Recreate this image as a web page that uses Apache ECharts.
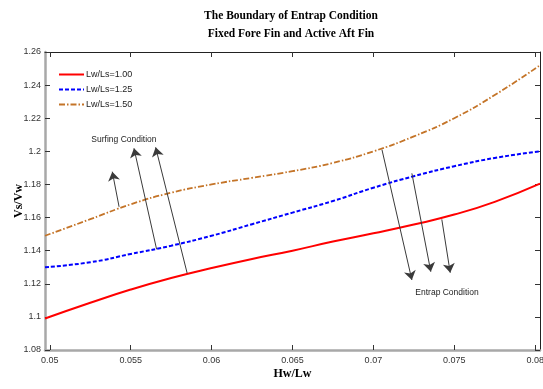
<!DOCTYPE html>
<html>
<head>
<meta charset="utf-8">
<script src="https://cdn.jsdelivr.net/npm/echarts@6/dist/echarts.min.js"></script>
<style>
  html, body { margin: 0; padding: 0; background: #fff; }
  #chart { width: 543px; height: 389px; }
</style>
</head>
<body>
<div id="chart"></div>
<script>
// Wave height ratio Hw/Lw (x) against speed ratio Vs/Vw (y)
const hwLw = [0.0497, 0.0525, 0.055, 0.0575, 0.06, 0.0625, 0.065, 0.0675, 0.07, 0.0725, 0.075, 0.0775, 0.0803];
const ratio100 = [1.099, 1.1085, 1.1165, 1.1235, 1.1295, 1.135, 1.140, 1.1455, 1.1505, 1.1558, 1.1618, 1.1695, 1.1805];
const ratio125 = [1.130, 1.133, 1.138, 1.143, 1.149, 1.156, 1.163, 1.170, 1.178, 1.185, 1.191, 1.196, 1.200];
const ratio150 = [1.149, 1.159, 1.168, 1.175, 1.180, 1.184, 1.188, 1.193, 1.200, 1.209, 1.220, 1.234, 1.252];
const seriesNames = ['Lw/Ls=1.00', 'Lw/Ls=1.25', 'Lw/Ls=1.50'];

const xTicks = [0.05, 0.055, 0.06, 0.065, 0.07, 0.075, 0.08];
const yTicks = [1.08, 1.1, 1.12, 1.14, 1.16, 1.18, 1.2, 1.22, 1.24, 1.26];

// Arrows: [fromX, fromY, toX, toY]
const surfingArrows = [
  [0.05428, 1.1665, 0.05386, 1.1877],
  [0.0566, 1.1408, 0.0552, 1.2018],
  [0.05849, 1.1263, 0.05654, 1.2024]
];
const entrapArrows = [
  [0.07053, 1.2010, 0.07238, 1.1223],
  [0.07238, 1.1867, 0.07355, 1.1273],
  [0.07423, 1.1589, 0.07475, 1.1267]
];
const noteLabels = [
  { text: 'Surfing Condition', x: 0.05458, y: 1.2068 },
  { text: 'Entrap Condition', x: 0.07455, y: 1.1144 }
];

const narrow = "'Liberation Sans Narrow', 'Liberation Sans', sans-serif";
const serif = "'Liberation Serif', 'Times New Roman', serif";
const fmt = v => String(+(+v).toFixed(4));

const arrowLines = surfingArrows.concat(entrapArrows).map(a => [
  { coord: [a[0], a[1]], symbol: 'none' },
  { coord: [a[2], a[3]], symbol: 'arrow', symbolSize: 9 }
]);

const chart = echarts.init(document.getElementById('chart'), null, { renderer: 'canvas' });
chart.setOption({
  animation: false,
  backgroundColor: '#ffffff',
  title: {
    text: 'The Boundary of Entrap Condition\nFixed Fore Fin and Active Aft Fin',
    left: 286,
    textAlign: 'center',
    top: 2,
    textStyle: { fontFamily: serif, fontWeight: 'bold', fontSize: 11.5, lineHeight: 18, color: '#000' }
  },
  legend: {
    orient: 'vertical',
    left: 58,
    top: 70,
    padding: 0,
    itemWidth: 25,
    itemHeight: 8,
    itemGap: 6,
    itemStyle: { color: 'transparent', borderColor: 'transparent', borderWidth: 0, opacity: 0 },
    textStyle: { fontFamily: narrow, fontSize: 9, color: '#222', padding: [0, 0, 0, -3] },
    data: seriesNames
  },
  grid: { left: 45, right: 3, top: 52, bottom: 39, containLabel: false, outerBoundsMode: 'none' },
  xAxis: [
    {
      type: 'value', min: 0.0497, max: 0.0803, position: 'bottom',
      name: 'Hw/Lw', nameLocation: 'middle', nameGap: 18, nameMoveOverlap: false,
      nameTextStyle: { fontFamily: serif, fontWeight: 'bold', fontSize: 12, color: '#000' },
      axisLine: { show: true, onZero: false, lineStyle: { color: '#a8a8a8', width: 2.5 } },
      axisTick: { show: true, inside: true, length: 5, customValues: xTicks, lineStyle: { color: '#333' } },
      axisLabel: { show: true, customValues: xTicks, formatter: fmt, margin: 6, fontFamily: narrow, fontSize: 9, color: '#333' },
      splitLine: { show: false }
    },
    {
      type: 'value', min: 0.0497, max: 0.0803, position: 'top',
      axisLine: { show: true, onZero: false, lineStyle: { color: '#222', width: 1 } },
      axisTick: { show: true, inside: true, length: 5, customValues: xTicks, lineStyle: { color: '#333' } },
      axisLabel: { show: false },
      splitLine: { show: false }
    }
  ],
  yAxis: [
    {
      type: 'value', min: 1.08, max: 1.26, position: 'left',
      name: 'Vs/Vw', nameLocation: 'middle', nameGap: 20, nameMoveOverlap: false,
      nameTextStyle: { fontFamily: serif, fontWeight: 'bold', fontSize: 12, color: '#000' },
      axisLine: { show: true, onZero: false, lineStyle: { color: '#a8a8a8', width: 2.5 } },
      axisTick: { show: true, inside: true, length: 5, customValues: yTicks, lineStyle: { color: '#333' } },
      axisLabel: { show: true, customValues: yTicks, formatter: fmt, margin: 4, fontFamily: narrow, fontSize: 9, color: '#333' },
      splitLine: { show: false }
    },
    {
      type: 'value', min: 1.08, max: 1.26, position: 'right',
      axisLine: { show: true, onZero: false, lineStyle: { color: '#222', width: 1 } },
      axisTick: { show: true, inside: true, length: 5, customValues: yTicks, lineStyle: { color: '#333' } },
      axisLabel: { show: false },
      splitLine: { show: false }
    }
  ],
  series: [
    {
      name: seriesNames[0], type: 'line', xAxisIndex: 0, yAxisIndex: 0,
      smooth: true, symbol: 'none',
      color: '#ff0000',
      lineStyle: { color: '#ff0000', width: 2, type: 'solid' },
      data: hwLw.map((x, i) => [x, ratio100[i]]),
      z: 3
    },
    {
      name: seriesNames[1], type: 'line', xAxisIndex: 0, yAxisIndex: 0,
      smooth: true, symbol: 'none',
      color: '#0000ff',
      lineStyle: { color: '#0000ff', width: 2, type: [4, 2] },
      data: hwLw.map((x, i) => [x, ratio125[i]]),
      z: 3
    },
    {
      name: seriesNames[2], type: 'line', xAxisIndex: 0, yAxisIndex: 0,
      smooth: true, symbol: 'none',
      color: '#c47428',
      lineStyle: { color: '#c47428', width: 1.8, type: [6, 2, 1.5, 2] },
      data: hwLw.map((x, i) => [x, ratio150[i]]),
      z: 3
    },
    {
      name: 'notes', type: 'line', xAxisIndex: 0, yAxisIndex: 0,
      symbol: 'none', data: [], silent: true,
      markLine: {
        silent: true,
        animation: false,
        symbol: ['none', 'arrow'],
        symbolSize: 9,
        label: { show: false },
        lineStyle: { color: '#3a3a3a', width: 1, type: 'solid' },
        emphasis: { disabled: true },
        data: arrowLines
      },
      markPoint: {
        silent: true,
        symbol: 'circle',
        symbolSize: 0,
        label: { show: true, position: 'inside', fontFamily: narrow, fontSize: 8.5, color: '#222', formatter: p => p.name },
        data: noteLabels.map(n => ({ name: n.text, coord: [n.x, n.y] }))
      },
      z: 4
    }
  ]
});
</script>
</body>
</html>
